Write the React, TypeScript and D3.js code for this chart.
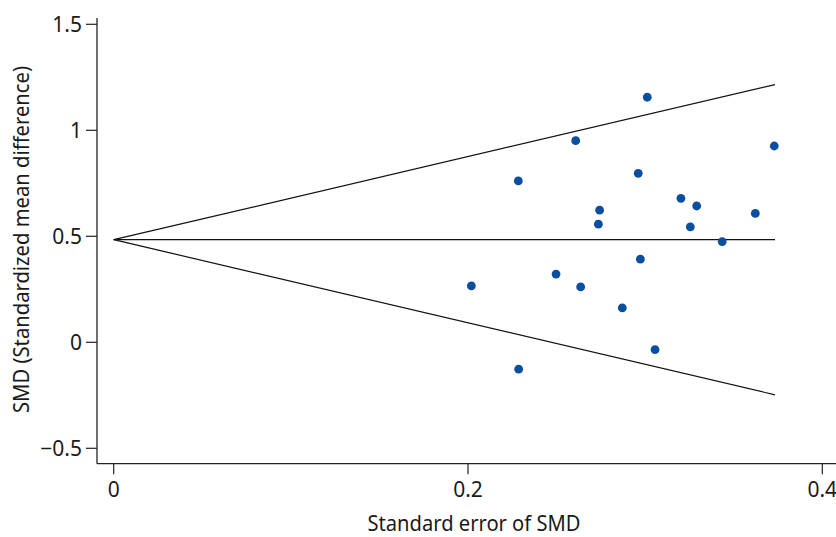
import React from "react";
import * as d3 from "d3";

const seValues = [0.3012, 0.2608, 0.3729, 0.2284, 0.2961, 0.3202, 0.3291, 0.2743, 0.3622, 0.2736, 0.3255, 0.3435, 0.2973, 0.2497, 0.2019, 0.2636, 0.2871, 0.3056, 0.2286];
const smdValues = [1.156, 0.951, 0.926, 0.761, 0.797, 0.679, 0.643, 0.623, 0.608, 0.557, 0.544, 0.475, 0.392, 0.322, 0.266, 0.261, 0.162, -0.035, -0.127];
const pooledSMD = 0.484;
const funnelSE = [0, 0.3733];
const xTicks = [0, 0.2, 0.4];
const yTicks = [-0.5, 0, 0.5, 1, 1.5];
const xTitle = "Standard error of SMD";
const yTitle = "SMD (Standardized mean difference)";

const W = 836;
const H = 537;
const FONT = "'Noto Sans', sans-serif";

export default function App() {
  const x = d3.scaleLinear().domain([0, 0.4]).range([113.7, 822.3]);
  const y = d3.scaleLinear().domain([-0.5, 1.5]).range([448.3, 24.3]);
  const axisX = 97;
  const axisY = 463.7;

  const line = d3
    .line<[number, number]>()
    .x((d) => x(d[0]))
    .y((d) => y(d[1]));

  const upper: [number, number][] = funnelSE.map((s) => [s, pooledSMD + 1.96 * s]);
  const lower: [number, number][] = funnelSE.map((s) => [s, pooledSMD - 1.96 * s]);
  const mid: [number, number][] = funnelSE.map((s) => [s, pooledSMD]);

  const fmt = (v: number) => (v < 0 ? "\u2212" + String(Math.abs(v)) : String(v));

  return (
    <svg
      width={W}
      height={H}
      style={{ position: "absolute", left: 0, top: 0, background: "#fff" }}
      fontFamily={FONT}
    >
      <rect width={W} height={H} fill="#fff" />
      {/* axes */}
      <line x1={axisX} x2={axisX} y1={18} y2={axisY} stroke="#222" strokeWidth={1.3} />
      <line x1={axisX} x2={W} y1={axisY} y2={axisY} stroke="#222" strokeWidth={1.3} />
      {yTicks.map((t) => (
        <g key={"y" + t}>
          <line x1={axisX - 11} x2={axisX} y1={y(t)} y2={y(t)} stroke="#222" strokeWidth={1.2} />
          <text x={axisX - 15} y={y(t) + 7.5} textAnchor="end" fontSize={21} fill="#1a1a1a">
            {fmt(t)}
          </text>
        </g>
      ))}
      {xTicks.map((t) => (
        <g key={"x" + t}>
          <line x1={x(t)} x2={x(t)} y1={axisY} y2={axisY + 10.5} stroke="#222" strokeWidth={1.2} />
          <text x={x(t)} y={496.7} textAnchor="middle" fontSize={21} fill="#1a1a1a">
            {fmt(t)}
          </text>
        </g>
      ))}
      <text
        x={474}
        y={531}
        textAnchor="middle"
        fontSize={21}
        fill="#1a1a1a"
        textLength={213}
        lengthAdjust="spacingAndGlyphs"
      >
        {xTitle}
      </text>
      <text
        transform={`translate(28.5,239.5) rotate(-90)`}
        textAnchor="middle"
        fontSize={21}
        fill="#1a1a1a"
        textLength={347}
        lengthAdjust="spacingAndGlyphs"
      >
        {yTitle}
      </text>
      {/* funnel */}
      <path d={line(upper) || ""} fill="none" stroke="#111" strokeWidth={1.2} />
      <path d={line(lower) || ""} fill="none" stroke="#111" strokeWidth={1.2} />
      <path d={line(mid) || ""} fill="none" stroke="#111" strokeWidth={1.2} />
      {/* points */}
      {seValues.map((s, i) => (
        <circle key={i} cx={x(s)} cy={y(smdValues[i])} r={4.4} fill="#0a4f9f" />
      ))}
    </svg>
  );
}
